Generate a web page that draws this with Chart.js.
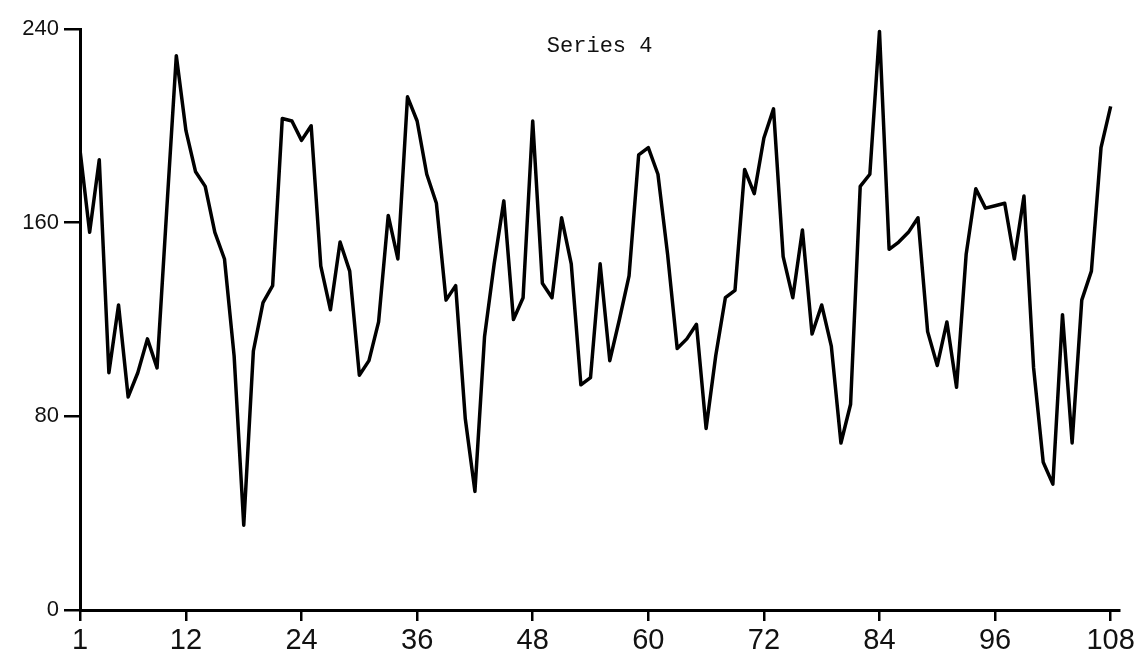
<!DOCTYPE html>
<html>
<head>
<meta charset="utf-8">
<title>Series 4</title>
<script src="https://cdn.jsdelivr.net/npm/chart.js@4/dist/chart.umd.min.js"></script>
<style>
  html, body { margin: 0; padding: 0; background: #fff; }
  #wrap { width: 1138px; height: 654px; }
</style>
</head>
<body>
<div id="wrap"><canvas id="seriesChart" width="1138" height="654"></canvas></div>
<script>
const series4 = [
  190, 156, 186, 98, 126, 88, 98, 112, 100, 165,
  229, 198, 181, 175, 156, 145, 105, 35, 107, 127,
  134, 203, 202, 194, 200, 142, 124, 152, 140, 97,
  103, 119, 163, 145, 212, 202, 180, 168, 128, 134,
  79, 49, 113, 143, 169, 120, 129, 202, 135, 129,
  162, 143, 93, 96, 143, 103, 120, 138, 188, 191,
  180, 147, 108, 112, 118, 75, 105, 129, 132, 182,
  172, 195, 207, 146, 129, 157, 114, 126, 109, 69,
  85, 175, 180, 239, 149, 152, 156, 162, 115, 101,
  119, 92, 147, 174, 166, 167, 168, 145, 171, 100,
  61, 52, 122, 69, 128, 140, 191, 208
];
const xTickValues = [1, 12, 24, 36, 48, 60, 72, 84, 96, 108];
const yTickValues = [0, 80, 160, 240];
const chartTitle = 'Series 4';

const obsIndex = series4.map((v, i) => i + 1);

const typeFont = "'Liberation Mono', 'DejaVu Sans Mono', monospace";
const letterFont = "'Liberation Sans', 'DejaVu Sans', sans-serif";

// title sits inside the plot, so draw it after the chart
const titleInside = {
    id: 'titleInside',
    afterDraw(chart) {
        let ctx = chart.ctx;
        let area = chart.chartArea;
        ctx.save();
        ctx.fillStyle = '#111';
        ctx.font = '22px ' + typeFont;
        ctx.textAlign = 'center';
        ctx.textBaseline = 'middle';
        ctx.fillText(chartTitle, area.left + (area.right - area.left) * 0.5, area.top + 17);
        ctx.restore();
    }
};

let ctx = document.getElementById('seriesChart').getContext('2d');
let myChart = new Chart(ctx, {
    type: 'line',
    data: {
        datasets: [{
            label: chartTitle,
            data: obsIndex.map((x, i) => ({x: x, y: series4[i]})),
            borderColor: '#000',
            borderWidth: 3.5,
            borderJoinStyle: 'round',
            pointRadius: 0,
            tension: 0,
            fill: false
        }]
    },
    options: {
        responsive: false,
        animation: false,
        layout: { padding: { top: 29, right: 18, bottom: 0, left: 0 } },
        plugins: {
            legend: { display: false },
            tooltip: { enabled: false }
        },
        scales: {
            x: {
                type: 'linear',
                min: 1,
                max: 108.9,
                afterBuildTicks: (scale) => { scale.ticks = xTickValues.map(v => ({value: v})); },
                afterFit: (scale) => { scale.height = 44; },
                ticks: {
                    autoSkip: false,
                    maxRotation: 0,
                    padding: 3,
                    color: '#111',
                    font: { family: letterFont, size: 29 }
                },
                grid: {
                    drawOnChartArea: false,
                    drawTicks: true,
                    tickLength: 11,
                    color: '#000',
                    lineWidth: 2.5
                },
                border: { display: true, color: '#000', width: 3 }
            },
            y: {
                min: 0,
                max: 240,
                afterBuildTicks: (scale) => { scale.ticks = yTickValues.map(v => ({value: v})); },
                afterFit: (scale) => { scale.width = 80; },
                ticks: {
                    padding: 5,
                    color: '#111',
                    font: { family: letterFont, size: 22 }
                },
                grid: {
                    drawOnChartArea: false,
                    drawTicks: true,
                    tickLength: 16,
                    color: '#000',
                    lineWidth: 2.5
                },
                border: { display: true, color: '#000', width: 3 }
            }
        }
    },
    plugins: [titleInside]
});
</script>
</body>
</html>
